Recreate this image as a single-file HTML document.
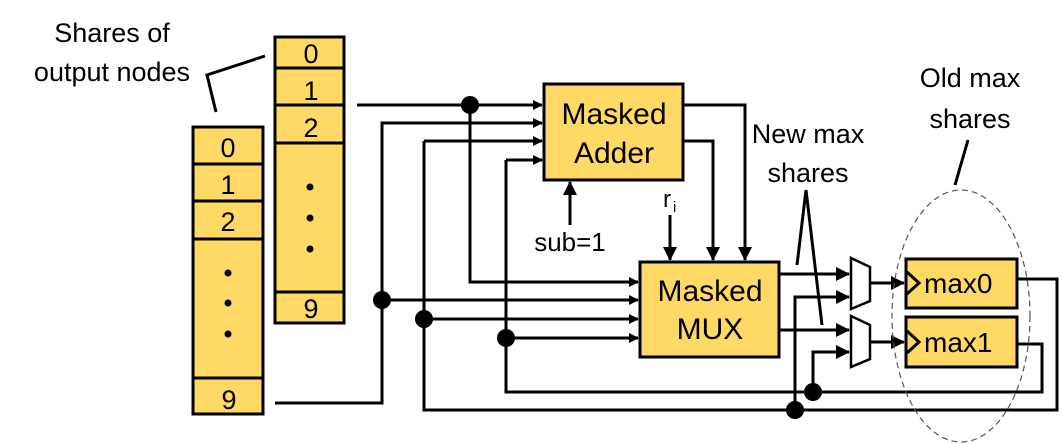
<!DOCTYPE html>
<html><head><style>body{margin:0;background:#fff}svg{display:block}text{font-family:"Liberation Sans",sans-serif;fill:#000}</style></head><body>
<svg width="1063" height="444" viewBox="0 0 1063 444" xmlns="http://www.w3.org/2000/svg">
<defs><marker id="a" markerWidth="10" markerHeight="10" refX="9" refY="5" orient="auto" markerUnits="userSpaceOnUse"><path d="M0,0 L10,5 L0,10 Z" fill="#000"/></marker>
<marker id="b" markerWidth="14" markerHeight="14" refX="13" refY="7" orient="auto" markerUnits="userSpaceOnUse"><path d="M0,0 L14,7 L0,14 Z" fill="#000"/></marker></defs>
<g font-size="27" text-anchor="middle">
<text x="112" y="42">Shares of</text><text x="112" y="81">output nodes</text>
<text x="808" y="143">New max</text><text x="808" y="182">shares</text>
<text x="970" y="87">Old max</text><text x="970" y="128">shares</text>
</g>
<polyline points="265,56 207,75 216,112" fill="none" stroke="#000" stroke-width="3"/>
<g stroke="#000" stroke-width="3" fill="#FFD966">
<rect x="193" y="127" width="70" height="287"/><rect x="275" y="37" width="69" height="286"/>
</g>
<g stroke="#000" stroke-width="3">
<line x1="193" y1="164" x2="263" y2="164"/><line x1="193" y1="201" x2="263" y2="201"/><line x1="193" y1="239" x2="263" y2="239"/><line x1="193" y1="378" x2="263" y2="378"/>
<line x1="275" y1="68" x2="344" y2="68"/><line x1="275" y1="105" x2="344" y2="105"/><line x1="275" y1="143" x2="344" y2="143"/><line x1="275" y1="292" x2="344" y2="292"/>
</g>
<g font-size="27" text-anchor="middle">
<text x="228" y="157">0</text><text x="228" y="194">1</text><text x="228" y="231">2</text><text x="229" y="409">9</text>
<text x="311" y="63">0</text><text x="311" y="100">1</text><text x="311" y="137">2</text><text x="311" y="318">9</text>
</g>
<g fill="#000"><circle cx="228" cy="273" r="3.5"/><circle cx="228" cy="303" r="3.5"/><circle cx="228" cy="334" r="3.5"/>
<circle cx="310" cy="187" r="3.5"/><circle cx="310" cy="218" r="3.5"/><circle cx="310" cy="249" r="3.5"/></g>
<g stroke="#000" stroke-width="3" fill="#FFD966">
<rect x="544" y="84" width="139" height="96"/><rect x="640" y="262" width="139" height="95"/>
<rect x="906" y="259" width="111" height="49"/><rect x="906" y="317" width="111" height="50"/>
</g>
<g font-size="30" text-anchor="middle"><text x="614" y="124">Masked</text><text x="614" y="163">Adder</text>
<text x="710" y="301">Masked</text><text x="710" y="339">MUX</text></g>
<g font-size="28"><text x="924" y="293">max0</text><text x="924" y="352">max1</text></g>
<g fill="none" stroke="#000" stroke-width="3"><polyline points="907,272 919,283 907,294"/><polyline points="907,331 919,342 907,353"/></g>
<g fill="#fff" stroke="#000" stroke-width="2.5"><polygon points="851,258 870,267 870,301 851,309"/><polygon points="851,316 870,325 870,359 851,367"/></g>
<g fill="none" stroke="#000" stroke-width="3">
<line x1="357" y1="105" x2="542" y2="105" marker-end="url(#a)"/>
<polyline points="470,105 470,282 638,282" marker-end="url(#a)"/>
<polyline points="275,403 382,403 382,123 542,123" marker-end="url(#a)"/>
<line x1="382" y1="300" x2="638" y2="300" marker-end="url(#a)"/>
<polyline points="424,141 542,141" marker-end="url(#a)"/>
<polyline points="424,141 424,410 1057,410 1057,279 1017,279"/>
<line x1="424" y1="319" x2="638" y2="319" marker-end="url(#a)"/>
<polyline points="506,160 542,160" marker-end="url(#a)"/>
<polyline points="506,160 506,392 1042,392 1042,344 1017,344"/>
<line x1="506" y1="338" x2="638" y2="338" marker-end="url(#a)"/>
<line x1="570" y1="225" x2="570" y2="182" marker-end="url(#b)"/>
<polyline points="683,105 745,105 745,260" marker-end="url(#b)"/>
<polyline points="683,141 713,141 713,260" marker-end="url(#b)"/>
<line x1="670" y1="215" x2="670" y2="260" marker-end="url(#b)"/>
<line x1="779" y1="274" x2="849" y2="274" marker-end="url(#b)"/>
<line x1="779" y1="330" x2="849" y2="330" marker-end="url(#b)"/>
<polyline points="795,410 795,297 849,297" marker-end="url(#b)"/>
<polyline points="813,392 813,352 849,352" marker-end="url(#b)"/>
<line x1="870" y1="283" x2="904" y2="283" marker-end="url(#b)"/>
<line x1="870" y1="342" x2="904" y2="342" marker-end="url(#b)"/>
<polyline points="797,265 806,190 822,325"/>
<line x1="968" y1="140" x2="955" y2="185"/>
</g>
<g fill="#000"><circle cx="470" cy="105" r="9"/><circle cx="382" cy="300" r="9"/><circle cx="424" cy="319" r="9"/><circle cx="506" cy="338" r="9"/><circle cx="795" cy="410" r="9"/><circle cx="813" cy="392" r="9"/></g>
<text x="663" y="207" font-size="24">r</text><text x="673" y="212" font-size="15">i</text>
<text x="570" y="251" font-size="26" text-anchor="middle">sub=1</text>
<ellipse cx="961" cy="316" rx="69" ry="126" fill="none" stroke="#555" stroke-width="1.2" stroke-dasharray="6,4"/>
</svg>
</body></html>
